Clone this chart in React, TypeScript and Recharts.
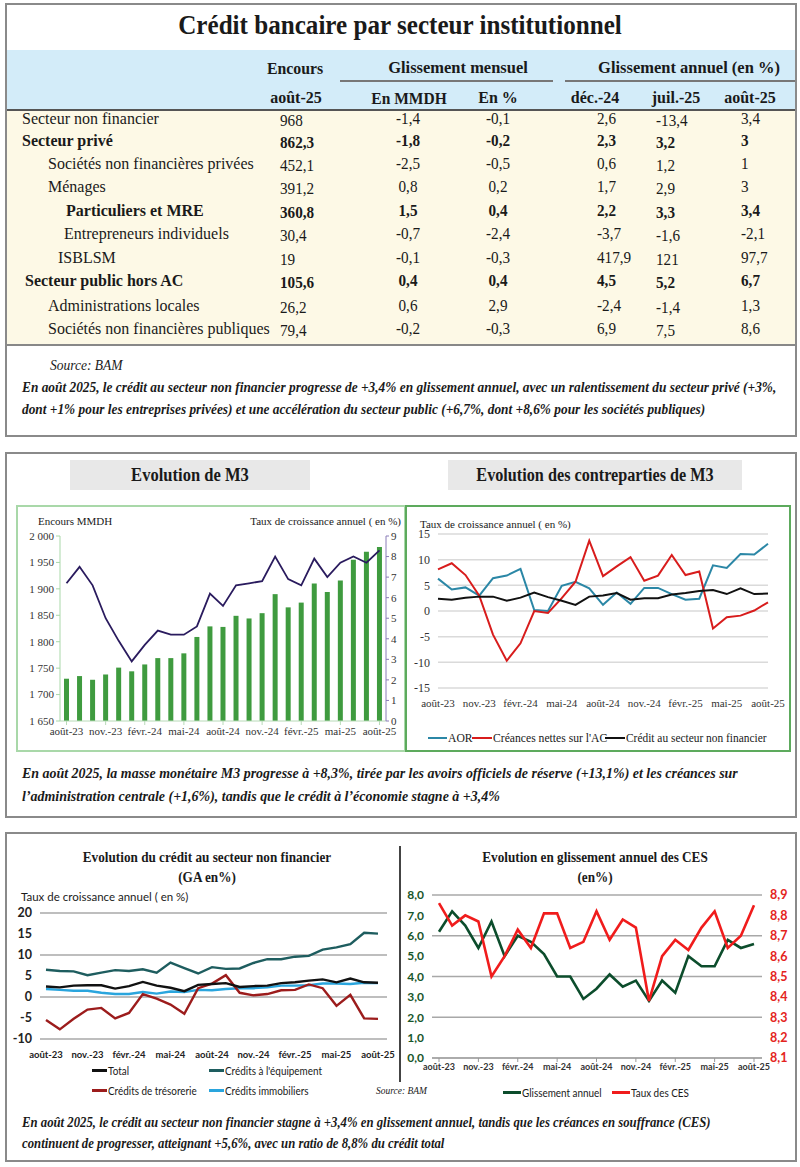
import React from 'react';
import { ComposedChart, LineChart, Bar, Line, XAxis, YAxis, CartesianGrid } from 'recharts';

const SERIF = '"Liberation Serif", "Times New Roman", serif';
const SANS = 'Lato, "Open Sans", sans-serif';

// ---- table data ----
const rowLabels = [
  'Secteur non financier',
  'Secteur privé',
  'Sociétés non financières privées',
  'Ménages',
  'Particuliers et MRE',
  'Entrepreneurs individuels',
  'ISBLSM',
  'Secteur public hors AC',
  'Administrations locales',
  'Sociétés non financières publiques',
];
const boldRows = [1, 4, 7];
const rowIndent = [22, 22, 48, 48, 66, 64, 58, 25, 48, 48];
const encours = ['968', '862,3', '452,1', '391,2', '360,8', '30,4', '19', '105,6', '26,2', '79,4'];
const gmMMDH = ['-1,4', '-1,8', '-2,5', '0,8', '1,5', '-0,7', '-0,1', '0,4', '0,6', '-0,2'];
const gmPct = ['-0,1', '-0,2', '-0,5', '0,2', '0,4', '-2,4', '-0,3', '0,4', '2,9', '-0,3'];
const gaDec24 = ['2,6', '2,3', '0,6', '1,7', '2,2', '-3,7', '417,9', '4,5', '-2,4', '6,9'];
const gaJul25 = ['-13,4', '3,2', '1,2', '2,9', '3,3', '-1,6', '121', '5,2', '-1,4', '7,5'];
const gaAug25 = ['3,4', '3', '1', '3', '3,4', '-2,1', '97,7', '6,7', '1,3', '8,6'];

// ---- chart data ----
const months = [
  'août-23', 'sept.-23', 'oct.-23', 'nov.-23', 'déc.-23', 'janv.-24', 'févr.-24', 'mars-24', 'avr.-24',
  'mai-24', 'juin-24', 'juil.-24', 'août-24', 'sept.-24', 'oct.-24', 'nov.-24', 'déc.-24', 'janv.-25',
  'févr.-25', 'mars-25', 'avr.-25', 'mai-25', 'juin-25', 'juil.-25', 'août-25',
];

const m3Encours = [1730, 1735, 1728, 1738, 1751, 1744, 1757, 1769, 1769, 1778, 1809, 1829, 1828, 1849, 1844, 1854, 1890, 1865, 1874, 1910, 1894, 1916, 1955, 1970, 1979];
const m3Taux = [6.7, 7.5, 6.6, 5.0, 3.9, 2.9, 3.7, 4.4, 4.2, 4.2, 4.6, 6.2, 5.6, 6.6, 6.7, 6.8, 8.0, 6.9, 6.6, 7.9, 7.0, 7.7, 8.0, 7.7, 8.3];

const aor = [6.3, 4.2, 4.6, 3.0, 6.4, 6.9, 8.2, 0.2, 0.0, 4.9, 5.7, 4.4, 1.2, 3.6, 1.4, 4.5, 4.5, 3.3, 2.2, 2.4, 8.9, 8.4, 11.1, 11.0, 13.1];
const creancesAC = [8.1, 9.3, 7.0, 3.0, -4.6, -9.7, -6.3, 0.0, -0.4, 2.5, 5.7, 13.7, 6.8, 8.7, 10.5, 5.9, 6.9, 10.9, 7.0, 7.7, -3.4, -1.2, -0.9, 0.1, 1.7];
const creditSNF = [2.4, 2.2, 2.6, 2.8, 2.8, 2.0, 2.6, 3.6, 2.7, 2.0, 1.2, 2.8, 3.0, 3.5, 2.2, 2.5, 2.5, 3.2, 3.5, 3.9, 4.1, 3.3, 4.4, 3.3, 3.4];

const total = [2.5, 2.3, 2.7, 2.8, 2.8, 2.0, 2.6, 3.6, 2.7, 2.2, 1.4, 2.9, 3.1, 3.3, 2.4, 2.6, 2.7, 3.3, 3.5, 3.9, 4.2, 3.5, 4.4, 3.5, 3.4];
const equipement = [6.5, 6.2, 6.1, 5.2, 5.8, 6.4, 6.2, 6.6, 5.8, 8.2, 6.9, 5.6, 7.1, 6.7, 6.8, 8.1, 9.0, 9.0, 9.6, 9.8, 11.3, 11.8, 12.6, 15.3, 15.1];
const tresorerie = [-5.5, -7.7, -5.2, -3.0, -2.6, -5.1, -3.8, 0.7, -0.4, -1.8, -4.0, 2.1, 3.2, 5.2, 1.0, 0.4, 0.7, 1.6, 1.7, 3.0, 2.1, -2.1, 0.5, -5.1, -5.2];
const immobiliers = [1.9, 1.7, 1.5, 1.5, 1.0, 0.7, 0.7, 1.2, 0.8, 1.3, 1.2, 1.7, 1.6, 1.9, 2.1, 2.1, 2.3, 2.7, 2.7, 2.8, 3.2, 3.2, 3.1, 3.4, 3.3];

const cesGA = [6.2, 7.2, 6.5, 5.4, 6.7, 5.0, 6.0, 5.7, 5.1, 4.0, 4.0, 2.9, 3.4, 4.1, 3.5, 3.8, 2.8, 3.8, 3.2, 5.0, 4.5, 4.5, 5.8, 5.4, 5.6];
const cesTaux = [8.86, 8.75, 8.8, 8.77, 8.5, 8.6, 8.73, 8.64, 8.81, 8.81, 8.64, 8.67, 8.82, 8.68, 8.78, 8.74, 8.38, 8.6, 8.68, 8.63, 8.74, 8.82, 8.64, 8.7, 8.85];

const m3Ticks = [1650, 1700, 1750, 1800, 1850, 1900, 1950, 2000];
const m3RightTicks = [0, 1, 2, 3, 4, 5, 6, 7, 8, 9];
const cpTicks = [-15, -10, -5, 0, 5, 10, 15];
const snfTicks = [-10, -5, 0, 5, 10, 15, 20];
const cesLeftTicks = [0, 1, 2, 3, 4, 5, 6, 7, 8];
const cesRightTicks = [8.1, 8.2, 8.3, 8.4, 8.5, 8.6, 8.7, 8.8, 8.9];

const m3Data = months.map((m, i) => ({ m, encours: m3Encours[i], taux: m3Taux[i] }));
const cpData = months.map((m, i) => ({ m, aor: aor[i], ac: creancesAC[i], snf: creditSNF[i] }));
const snfData = months.map((m, i) => ({ m, total: total[i], equip: equipement[i], treso: tresorerie[i], immo: immobiliers[i] }));
const cesData = months.map((m, i) => ({ m, ga: cesGA[i], taux: cesTaux[i] }));

const fmtThousands = (v: number) => (v >= 1000 ? `${Math.floor(v / 1000)} ${String(v % 1000).padStart(3, '0')}` : String(v));
const fmtComma = (v: number) => v.toFixed(1).replace('.', ',');

type TxtProps = {
  x: number; y: number; children: React.ReactNode; size?: number; bold?: boolean; italic?: boolean;
  color?: string; align?: 'left' | 'center' | 'right'; sx?: number; font?: string;
};
const Txt = ({ x, y, children, size = 14, bold, italic, color = '#1a1a1a', align = 'left', sx = 1, font = SERIF }: TxtProps) => {
  const tf = align === 'center' ? `translate(-50%,-50%) scaleX(${sx})` : align === 'right' ? `translate(-100%,-50%) scaleX(${sx})` : `translateY(-50%) scaleX(${sx})`;
  const origin = align === 'center' ? 'center center' : align === 'right' ? 'right center' : 'left center';
  return (
    <div style={{ position: 'absolute', left: x, top: y, whiteSpace: 'nowrap', fontFamily: font, fontSize: size, fontWeight: bold ? 700 : 400, fontStyle: italic ? 'italic' : 'normal', color, transform: tf, transformOrigin: origin, lineHeight: 1 }}>
      {children}
    </div>
  );
};

const Box = ({ x, y, w, h, style }: { x: number; y: number; w: number; h: number; style: React.CSSProperties }) => (
  <div style={{ position: 'absolute', left: x, top: y, width: w, height: h, boxSizing: 'border-box', ...style }} />
);

const LegendItem = ({ x, y, color, label, lw = 16, thick = 2, font = SERIF, size = 12, sx = 1 }: { x: number; y: number; color: string; label: string; lw?: number; thick?: number; font?: string; size?: number; sx?: number }) => (
  <>
    <Box x={x} y={y - thick / 2} w={lw} h={thick} style={{ background: color }} />
    <Txt x={x + lw + 1} y={y} size={size} font={font} sx={sx}>{label}</Txt>
  </>
);

const rowY = [119, 141, 164, 187, 211, 234, 258, 281, 306, 329];

export default function App() {
  const serifTick = { fontFamily: SERIF, fontSize: 11, fill: '#333' };
  const sansTick = { fontFamily: SANS, fontSize: 11.5, fontWeight: 700, fill: '#222' };
  return (
    <div style={{ position: 'absolute', left: 0, top: 0, width: 800, height: 1167, background: '#fff', overflow: 'hidden' }}>
      {/* ---------- Panel 1: table ---------- */}
      <Box x={5} y={3} w={792} h={434} style={{ border: '2px solid #8a8a8a' }} />
      <Txt x={400} y={25} size={27} bold align="center" sx={0.93}>Crédit bancaire par secteur institutionnel</Txt>
      <Box x={7} y={50} w={788} h={60} style={{ background: '#d3ecf9' }} />
      <Box x={7} y={110} w={788} h={235} style={{ background: '#fdf9e6' }} />
      <Box x={7} y={109} w={788} h={1.5} style={{ background: '#555' }} />
      <Box x={340} y={80} w={213} h={1.5} style={{ background: '#777' }} />
      <Box x={565} y={80} w={230} h={1.5} style={{ background: '#777' }} />
      <Box x={7} y={344} w={788} h={2} style={{ background: '#888' }} />

      <Txt x={295} y={68} size={17} bold align="center" sx={0.93}>Encours</Txt>
      <Txt x={458} y={67} size={17} bold align="center" sx={0.97}>Glissement mensuel</Txt>
      <Txt x={689} y={67} size={17} bold align="center" sx={0.97}>Glissement annuel (en %)</Txt>
      <Txt x={296} y={98} size={16} bold align="center">août-25</Txt>
      <Txt x={409} y={99} size={16} bold align="center" sx={0.97}>En MMDH</Txt>
      <Txt x={498} y={98} size={16} bold align="center">En %</Txt>
      <Txt x={595} y={98} size={16} bold align="center">déc.-24</Txt>
      <Txt x={676} y={98} size={16} bold align="center">juil.-25</Txt>
      <Txt x={750} y={98} size={16} bold align="center">août-25</Txt>

      {rowLabels.map((lab, i) => {
        const b = boldRows.includes(i);
        const y = rowY[i];
        return (
          <React.Fragment key={lab}>
            <Txt x={rowIndent[i]} y={y} size={16.5} bold={b} sx={0.97}>{lab}</Txt>
            <Txt x={280} y={y + 2} size={16.5} bold={b} sx={0.92}>{encours[i]}</Txt>
            <Txt x={408} y={y} size={16.5} bold={b} align="center" sx={0.92}>{gmMMDH[i]}</Txt>
            <Txt x={498} y={y} size={16.5} bold={b} align="center" sx={0.92}>{gmPct[i]}</Txt>
            <Txt x={597} y={y} size={16.5} bold={b} sx={0.92}>{gaDec24[i]}</Txt>
            <Txt x={656} y={y + 2} size={16.5} bold={b} sx={0.92}>{gaJul25[i]}</Txt>
            <Txt x={741} y={y} size={16.5} bold={b} sx={0.92}>{gaAug25[i]}</Txt>
          </React.Fragment>
        );
      })}

      <Txt x={50} y={365} size={15} italic sx={0.9}>Source: BAM</Txt>
      <Txt x={22} y={387} size={15} bold italic sx={0.89}>En août 2025, le crédit au secteur non financier progresse de +3,4% en glissement annuel, avec un ralentissement du secteur privé (+3%,</Txt>
      <Txt x={22} y={409} size={15} bold italic sx={0.89}>dont +1% pour les entreprises privées) et une accélération du secteur public (+6,7%, dont +8,6% pour les sociétés publiques)</Txt>

      {/* ---------- Panel 2: M3 ---------- */}
      <Box x={5} y={452} w={792} h={366} style={{ border: '2px solid #8a8a8a' }} />
      <Box x={70} y={460} w={240} h={30} style={{ background: '#e8e8e8' }} />
      <Box x={448} y={460} w={294} h={30} style={{ background: '#e8e8e8' }} />
      <Txt x={190} y={475} size={18} bold align="center" sx={0.92}>Evolution de M3</Txt>
      <Txt x={595} y={475} size={18} bold align="center" sx={0.9}>Evolution des contreparties de M3</Txt>
      <Box x={16} y={505} w={390} h={247} style={{ border: '2px solid #a9d8a9' }} />
      <Box x={405} y={505} w={386} h={247} style={{ border: '2px solid #5daa5d' }} />

      <Txt x={38} y={521} size={11}>Encours MMDH</Txt>
      <Txt x={401} y={521} size={11} align="right">Taux de croissance annuel ( en %)</Txt>
      <div style={{ position: 'absolute', left: 16, top: 505 }}>
        <ComposedChart width={389} height={247} data={m3Data} margin={{ top: 31, right: 0, bottom: 11, left: 0 }}>
          <XAxis dataKey="m" interval={2} tick={serifTick} axisLine={{ stroke: '#b8dab8' }} tickLine={{ stroke: '#b8dab8' }} tickSize={4} height={20} />
          <YAxis yAxisId="l" domain={[1650, 2000]} ticks={m3Ticks} tickFormatter={fmtThousands} width={44} tick={serifTick} axisLine={{ stroke: '#a9d8a9' }} tickLine={{ stroke: '#a9d8a9' }} tickSize={4} />
          <YAxis yAxisId="r" orientation="right" domain={[0, 9]} ticks={m3RightTicks} width={19} tick={serifTick} axisLine={{ stroke: '#8a7cb8' }} tickLine={{ stroke: '#8a7cb8' }} tickSize={3} />
          <Bar yAxisId="l" dataKey="encours" fill="#3f9b3f" barSize={5} isAnimationActive={false} />
          <Line yAxisId="r" type="linear" dataKey="taux" stroke="#2a1b5e" strokeWidth={1.8} dot={false} isAnimationActive={false} />
        </ComposedChart>
      </div>

      <Txt x={420} y={524} size={11}>Taux de croissance annuel ( en %)</Txt>
      <div style={{ position: 'absolute', left: 405, top: 505 }}>
        <LineChart width={385} height={247} data={cpData} margin={{ top: 29, right: 22, bottom: 44, left: 0 }}>
          <CartesianGrid vertical={false} stroke="#dadada" strokeWidth={1.5} />
          <XAxis dataKey="m" interval={2} axisLine={false} tickLine={false} tickMargin={5} height={20} tick={serifTick} />
          <YAxis domain={[-15, 15]} ticks={cpTicks} width={33} axisLine={false} tickLine={false} tick={{ ...serifTick, fontSize: 12 }} />
          <Line type="linear" dataKey="aor" stroke="#2b87a6" strokeWidth={2} dot={false} isAnimationActive={false} />
          <Line type="linear" dataKey="ac" stroke="#d81c1c" strokeWidth={2} dot={false} isAnimationActive={false} />
          <Line type="linear" dataKey="snf" stroke="#111" strokeWidth={2} dot={false} isAnimationActive={false} />
        </LineChart>
      </div>
      <LegendItem x={428} y={738} color="#2b87a6" label="AOR" lw={19} sx={0.97} />
      <LegendItem x={472} y={738} color="#d81c1c" label="Créances nettes sur l'AC" lw={20} sx={0.97} />
      <LegendItem x={605} y={738} color="#111" label="Crédit au secteur non financier" lw={20} sx={0.95} />

      <Txt x={22} y={773} size={15} bold italic sx={0.93}>En août 2025, la masse monétaire M3 progresse à +8,3%, tirée par les avoirs officiels de réserve (+13,1%) et les créances sur</Txt>
      <Txt x={22} y={796} size={15} bold italic sx={0.93}>l’administration centrale (+1,6%), tandis que le crédit à l’économie stagne à +3,4%</Txt>

      {/* ---------- Panel 3 ---------- */}
      <Box x={5} y={832} w={792} h={330} style={{ border: '2px solid #8a8a8a' }} />
      <Box x={399} y={846} w={2} h={236} style={{ background: '#444' }} />
      <Txt x={207} y={857} size={15} bold align="center" sx={0.88}>Evolution du crédit au secteur non financier</Txt>
      <Txt x={207} y={877} size={15} bold align="center" sx={0.88}>(GA en%)</Txt>
      <Txt x={595} y={857} size={15} bold align="center" sx={0.88}>Evolution en glissement annuel des CES</Txt>
      <Txt x={595} y={877} size={15} bold align="center" sx={0.88}>(en%)</Txt>

      <Txt x={21} y={897} size={11.5} font={SANS}>Taux de croissance annuel ( en %)</Txt>
      <div style={{ position: 'absolute', left: 10, top: 900 }}>
        <LineChart width={385} height={165} data={snfData} margin={{ top: 13, right: 8, bottom: 6, left: 0 }}>
          <CartesianGrid vertical={false} stroke="#a8a8a8" strokeWidth={1.3} />
          <XAxis dataKey="m" interval={2} padding={{ left: 6, right: 9 }} axisLine={false} tickLine={false} tickMargin={6} height={20} tick={{ ...sansTick, fontSize: 9.5 }} />
          <YAxis domain={[-10, 20]} ticks={snfTicks} width={30} axisLine={false} tickLine={false} tick={{ ...sansTick, fontSize: 12.5 }} />
          <Line type="linear" dataKey="equip" stroke="#1e5d5f" strokeWidth={2.4} dot={false} isAnimationActive={false} />
          <Line type="linear" dataKey="immo" stroke="#2aa5dd" strokeWidth={2.4} dot={false} isAnimationActive={false} />
          <Line type="linear" dataKey="treso" stroke="#9c1c1c" strokeWidth={2.4} dot={false} isAnimationActive={false} />
          <Line type="linear" dataKey="total" stroke="#111" strokeWidth={2.4} dot={false} isAnimationActive={false} />
        </LineChart>
      </div>
      <LegendItem x={92} y={1070} color="#111" label="Total" lw={15} thick={3} font={SANS} size={11} sx={0.9} />
      <LegendItem x={209} y={1070} color="#1e5d5f" label="Crédits à l'équipement" lw={15} thick={3} font={SANS} size={11} sx={0.9} />
      <LegendItem x={92} y={1090} color="#9c1c1c" label="Crédits de trésorerie" lw={15} thick={3} font={SANS} size={11} sx={0.9} />
      <LegendItem x={209} y={1090} color="#2aa5dd" label="Crédits immobiliers" lw={15} thick={3} font={SANS} size={11} sx={0.9} />
      <Txt x={376} y={1091} size={10.5} italic sx={0.9}>Source: BAM</Txt>

      <div style={{ position: 'absolute', left: 400, top: 885 }}>
        <LineChart width={400} height={195} data={cesData} margin={{ top: 10, right: 0, bottom: 0, left: 0 }}>
          <CartesianGrid vertical={false} yAxisId="l" stroke="#a8a8a8" strokeWidth={1.3} />
          <XAxis dataKey="m" interval={2} padding={{ left: 7, right: 8 }} axisLine={{ stroke: '#999' }} tickLine={{ stroke: '#999' }} tickSize={4} height={22} tick={{ ...sansTick, fontSize: 9, fill: '#333' }} />
          <YAxis yAxisId="l" domain={[0, 8]} ticks={cesLeftTicks} tickFormatter={fmtComma} width={32} axisLine={false} tickLine={false} tick={{ ...sansTick, fontSize: 12, fill: '#17562a' }} />
          <YAxis yAxisId="r" orientation="right" domain={[8.1, 8.9]} ticks={cesRightTicks} tickFormatter={fmtComma} width={38} axisLine={false} tickLine={false} tick={{ ...sansTick, fontSize: 12.5, fill: '#e42320' }} />
          <Line yAxisId="l" type="linear" dataKey="ga" stroke="#0c4d2c" strokeWidth={2.6} dot={false} isAnimationActive={false} />
          <Line yAxisId="r" type="linear" dataKey="taux" stroke="#f01c1c" strokeWidth={2.6} dot={false} isAnimationActive={false} />
        </LineChart>
      </div>
      <LegendItem x={503} y={1092} color="#0c4d2c" label="Glissement annuel" lw={18} thick={3} font={SANS} size={11} sx={0.9} />
      <LegendItem x={612} y={1092} color="#f01c1c" label="Taux des CES" lw={18} thick={3} font={SANS} size={11} sx={0.9} />

      <Txt x={22} y={1122} size={15} bold italic sx={0.85}>En août 2025, le crédit au secteur non financier stagne à +3,4% en glissement annuel, tandis que les créances en souffrance (CES)</Txt>
      <Txt x={22} y={1143} size={15} bold italic sx={0.85}>continuent de progresser, atteignant +5,6%, avec un ratio de 8,8% du crédit total</Txt>
    </div>
  );
}
